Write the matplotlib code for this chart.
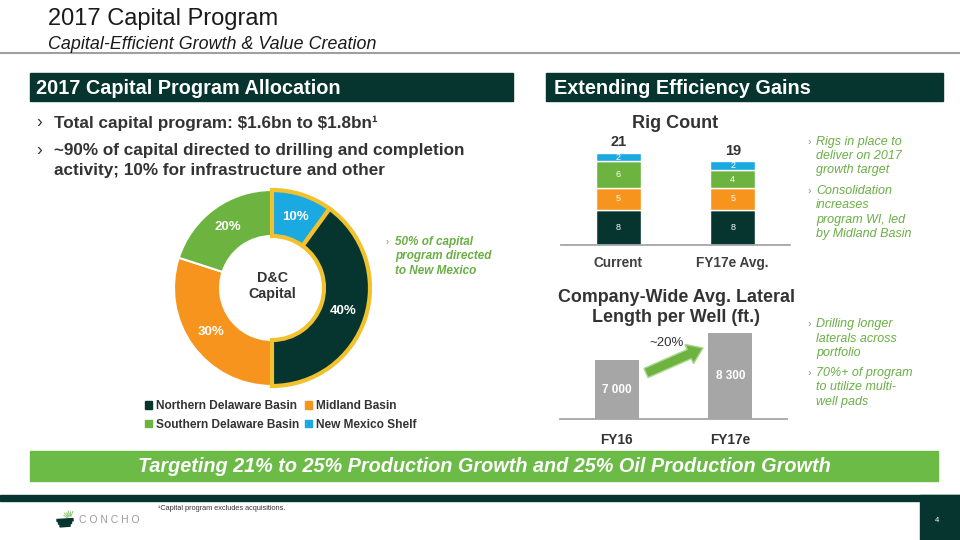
import matplotlib
matplotlib.use('Agg')
import matplotlib.pyplot as plt
from matplotlib.patches import Rectangle, FancyArrow, Polygon
import numpy as np

plt.rcParams['font.family'] = ['Liberation Sans', 'DejaVu Sans']

W, H = 960, 540
DARK = '#063530'
ORANGE = '#F7941D'
GREEN = '#6DB33F'
BLUE = '#1BA9E1'
GOLD = '#F2C12E'
GRAY_BAR = '#A6A6A6'
TXT = '#333333'
GTXT = '#6AAF45'

# ---------------- data ----------------
donut_labels = ['New Mexico Shelf', 'Northern Delaware Basin', 'Midland Basin', 'Southern Delaware Basin']
donut_values = [10, 40, 30, 20]
donut_colors = [BLUE, DARK, ORANGE, GREEN]

rig_categories = ['Current', 'FY17e Avg.']
rig_northern = [8, 8]
rig_midland = [5, 5]
rig_southern = [6, 4]
rig_nm = [2, 2]

lat_categories = ['FY16', 'FY17e']
lat_values = [7000, 8300]
lat_labels = ['7 000', '8 300']
lat_axis_min = 4160

fig = plt.figure(figsize=(9.6, 5.4), dpi=100)


def fax(x0, y0, x1, y1):
    return [x0 / W, 1 - y1 / H, (x1 - x0) / W, (y1 - y0) / H]


# ---------------- donut ----------------
axd = fig.add_axes(fax(172, 188, 372, 388))
wedges, _t, autotexts = axd.pie(donut_values, colors=donut_colors, startangle=90,
                                counterclock=False, radius=0.98,
                                autopct='%d%%', pctdistance=0.765,
                                wedgeprops=dict(width=0.46),
                                textprops=dict(color='white', fontsize=9.5, fontweight='bold'))
for w, c in zip(wedges, donut_colors):
    if c in (BLUE, DARK):
        w.set_edgecolor(GOLD)
        w.set_linewidth(3)
        w.set_zorder(3)
    else:
        w.set_edgecolor('white')
        w.set_linewidth(1.5)
        w.set_zorder(2)
for t in autotexts:
    t.set_zorder(5)
axd.text(0, 0.02, 'D&C\nCapital', ha='center', va='center', fontsize=10.3,
         fontweight='bold', color=TXT, linespacing=1.15)
axd.set_xlim(-1, 1)
axd.set_ylim(-1, 1)
axd.set_aspect('equal')
axd.axis('off')

leg_order = [1, 3, 2, 0]
handles = [Rectangle((0, 0), 1, 1, color=donut_colors[i]) for i in leg_order]
labels = [donut_labels[i] for i in leg_order]
leg = fig.legend(handles, labels, ncol=2, loc='upper left',
                 bbox_to_anchor=(145 / W, 1 - 400 / H), frameon=False,
                 prop=dict(size=8.6, weight='bold'), handlelength=0.6,
                 handleheight=0.6, handletextpad=0.3, columnspacing=0.5,
                 labelspacing=0.55, borderaxespad=0, borderpad=0)
for t in leg.get_texts():
    t.set_color(TXT)

# ---------------- rig count ----------------
axr = fig.add_axes(fax(561, 130, 790, 245))
x = np.arange(len(rig_categories))
bw = 0.39
bottom = np.zeros(len(x))
for vals, col in [(rig_northern, DARK), (rig_midland, ORANGE),
                  (rig_southern, GREEN), (rig_nm, BLUE)]:
    cont = axr.bar(x, vals, bw, bottom=bottom, color=col, edgecolor='white', linewidth=1)
    axr.bar_label(cont, labels=[str(v) for v in vals], label_type='center',
                  color='white', fontsize=6.5)
    bottom += np.array(vals)
for xi, tot in zip(x, bottom):
    axr.annotate(str(int(tot)), (xi, tot), xytext=(0, 2.5), textcoords='offset points',
                 ha='center', va='bottom', fontsize=10.5, fontweight='bold', color=TXT)
axr.set_xlim(-0.5, 1.5)
axr.set_ylim(0, 115 / 4.4)
axr.set_xticks(x, rig_categories)
axr.tick_params(axis='x', length=0, pad=8, labelsize=9.8, labelcolor='#404040')
for lab in axr.get_xticklabels():
    lab.set_fontweight('bold')
axr.set_yticks([])
for s in ['top', 'right', 'left']:
    axr.spines[s].set_visible(False)
axr.spines['bottom'].set_color('#A6A6A6')
axr.spines['bottom'].set_linewidth(1.3)
axr.patch.set_alpha(0)

# ---------------- lateral length ----------------
axl = fig.add_axes(fax(560, 300, 787, 419))
xl = np.arange(len(lat_categories))
axl.bar(xl, lat_values, 0.39, color=GRAY_BAR)
lat_top = lat_axis_min + 119 / 0.02077
axl.set_ylim(lat_axis_min, lat_top)
axl.set_xlim(-0.5, 1.5)
for xi, v, lab in zip(xl, lat_values, lat_labels):
    axl.text(xi, (lat_axis_min + v) / 2, lab, ha='center', va='center',
             color='white', fontsize=8.5, fontweight='bold')
axl.set_xticks(xl, lat_categories)
axl.tick_params(axis='x', length=0, pad=10, labelsize=9.8, labelcolor=TXT)
for lab in axl.get_xticklabels():
    lab.set_fontweight('bold')
axl.set_yticks([])
for s in ['top', 'right', 'left']:
    axl.spines[s].set_visible(False)
axl.spines['bottom'].set_color('#A6A6A6')
axl.spines['bottom'].set_linewidth(1.3)
axl.patch.set_alpha(0)

# ---------------- overlay ----------------
ov = fig.add_axes([0, 0, 1, 1])
ov.set_xlim(0, W)
ov.set_ylim(H, 0)
ov.axis('off')

ov.text(48, 19.5, '2017 Capital Program', fontsize=17, color='#1a1a1a', va='center')
ov.text(48, 44.5, 'Capital-Efficient Growth & Value Creation', fontsize=12.9,
        style='italic', color='#1a1a1a', va='center')
ov.plot([0, W], [53, 53], color='#A0A0A0', lw=1.5)

ov.add_patch(Rectangle((30, 73), 483, 28, color=DARK))
ov.text(36, 88.5, '2017 Capital Program Allocation', color='white', fontsize=14.3,
        fontweight='bold', va='center')
ov.add_patch(Rectangle((546, 73), 397, 28, color=DARK))
ov.text(554, 88.5, 'Extending Efficiency Gains', color='white', fontsize=14.3,
        fontweight='bold', va='center')

for y, s in [(123, 'Total capital program: \\$1.6bn to \\$1.8bn¹'),
             (151, '~90% of capital directed to drilling and completion'),
             (171, 'activity; 10% for infrastructure and other')]:
    ov.text(54, y, s, fontsize=12.3, fontweight='bold', color=TXT, va='center')
for y in [123, 151]:
    ov.text(36, y, '›', fontsize=12.3, color=TXT, va='center')


def bullet(x, y0, lines, step, size, weight):
    ov.text(x - 9, y0 + 3.5, '›', fontsize=size - 1.5, color='#8a8a8a', va='baseline')
    for i, s in enumerate(lines):
        ov.text(x, y0 + 3.5 + i * step, s, fontsize=size, fontweight=weight,
                style='italic', color=GTXT, va='baseline')


bullet(395, 241, ['50% of capital', 'program directed', 'to New Mexico'], 14.5, 8.5, 'bold')
bullet(816, 141, ['Rigs in place to', 'deliver on 2017', 'growth target'], 14.3, 9.0, 'normal')
bullet(816, 190.5, ['Consolidation', 'increases', 'program WI, led', 'by Midland Basin'], 14.3, 9.0, 'normal')
bullet(816, 323.5, ['Drilling longer', 'laterals across', 'portfolio'], 14.5, 9.0, 'normal')
bullet(816, 372.5, ['70%+ of program', 'to utilize multi-', 'well pads'], 14.5, 9.0, 'normal')

ov.text(675, 123, 'Rig Count', fontsize=13, fontweight='bold', color=TXT,
        ha='center', va='center')
ov.text(676, 297, 'Company-Wide Avg. Lateral', fontsize=12.9, fontweight='bold',
        color=TXT, ha='center', va='center')
ov.text(676, 318, 'Length per Well (ft.)', fontsize=12.9, fontweight='bold',
        color=TXT, ha='center', va='center')

ov.add_patch(FancyArrow(646, 373, 57, -25, width=10, head_width=21, head_length=15,
                        length_includes_head=True, facecolor=GREEN,
                        edgecolor='#A8D88A', lw=1))
ov.text(667, 343, '~20%', fontsize=9.5, color=TXT, ha='center', va='center')

# banner
ov.add_patch(Rectangle((30, 451), 908, 29.5, color='#6DBB47'))
ov.text(484, 466.5, 'Targeting 21% to 25% Production Growth and 25% Oil Production Growth',
        fontsize=14.3, fontweight='bold', style='italic', color='white',
        ha='center', va='center')

# footer
ov.add_patch(Rectangle((0, 494.5), W, 6, color=DARK))
ov.add_patch(Rectangle((920, 494.5), 40, 46, color=DARK))
ov.text(937, 520, '4', fontsize=5.5, color='white', ha='center', va='center')
ov.text(158, 509, '¹Capital program excludes acquisitions.', fontsize=5.3,
        color=TXT, va='center')
ov.text(79, 520, 'C O N C H O', fontsize=7.5, color='#9a9a9a', va='center')
# logo mark: light fan lines above, dark slanted stripes below
for k, a in enumerate(np.linspace(150, 70, 6)):
    cx, cy = 70, 519
    r0, r1 = 3, 7 + (k % 2)
    ov.plot([cx + r0 * np.cos(np.radians(a)), cx + r1 * np.cos(np.radians(a))],
            [cy - r0 * np.sin(np.radians(a)), cy - r1 * np.sin(np.radians(a))],
            color='#8CC46A', lw=0.7)
for k in range(3):
    y0 = 519.5 + k * 2.7
    ov.add_patch(Polygon([[57 + k * 1.5, y0], [73 - k * 1.5, y0 - 1.0],
                          [73 - k * 1.5, y0 + 1.3], [57 + k * 1.5, y0 + 2.0]],
                         closed=True, color=DARK))

fig.savefig('out.png', dpi=100)
